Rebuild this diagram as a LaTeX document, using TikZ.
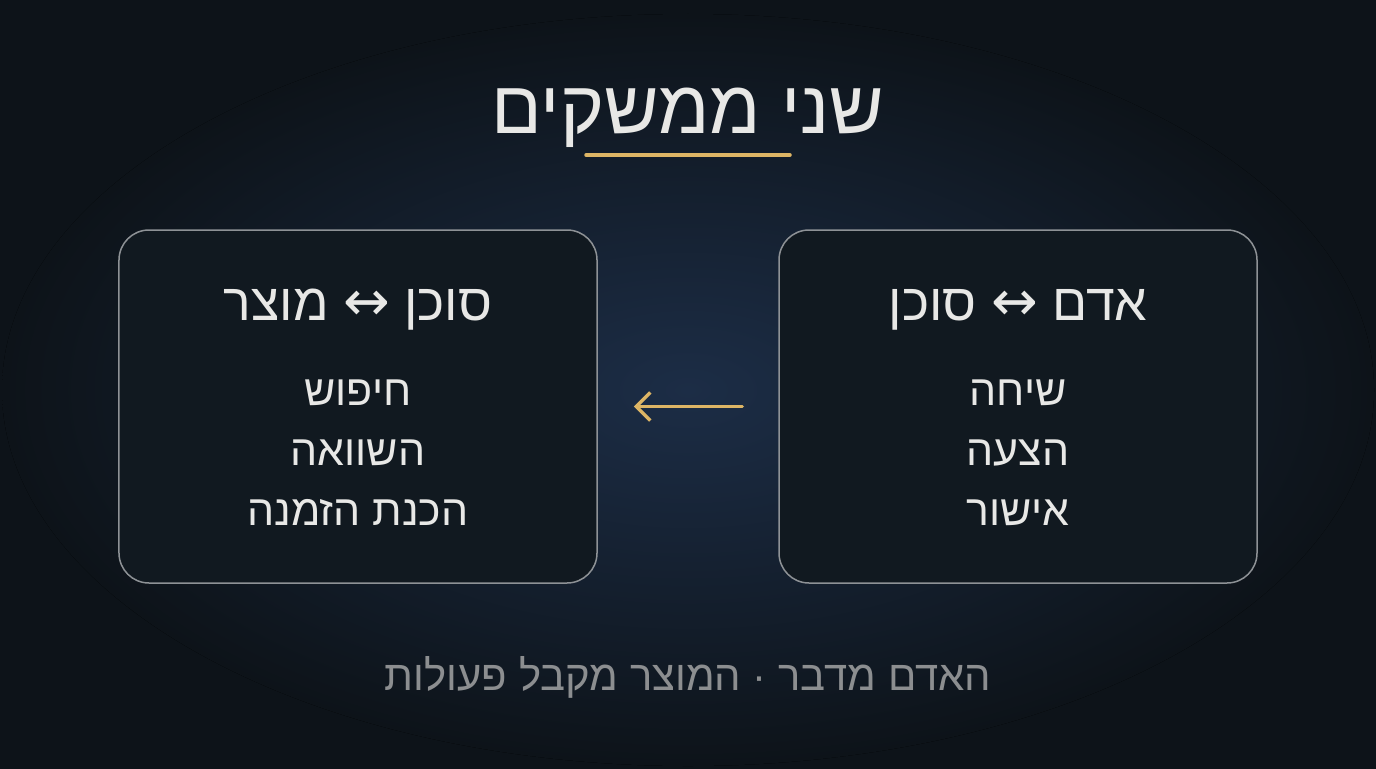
\documentclass[tikz,border=0pt]{standalone}
\usepackage{fontspec}
\usetikzlibrary{arrows.meta}
\TeXXeTstate=1
\newfontfamily\heb[Script=Hebrew]{Liberation Sans}
\newfontfamily\symf{DejaVu Sans}
\definecolor{bgout}{HTML}{0D1319}
\definecolor{bgin}{HTML}{1C2D46}
\definecolor{boxfill}{HTML}{111920}
\definecolor{boxline}{HTML}{8E9296}
\definecolor{txt}{HTML}{E8E8E6}
\definecolor{subtxt}{HTML}{8C8E90}
\definecolor{gold}{HTML}{DDB565}
\tikzset{
  panel/.style={draw=boxline, line width=1.5bp, fill=boxfill, rounded corners=30bp,
    minimum width=478bp, minimum height=353bp, inner sep=0pt},
  titletext/.style={text=txt, anchor=base, inner sep=0pt, font=\heb\fontsize{75}{82}\selectfont},
  headtext/.style={text=txt, anchor=base, inner sep=0pt, font=\heb\fontsize{52}{60}\selectfont},
  itemtext/.style={text=txt, anchor=base, inner sep=0pt, font=\heb\fontsize{43}{50}\selectfont},
  foottext/.style={text=subtxt, anchor=base, inner sep=0pt, font=\heb\fontsize{42}{50}\selectfont},
  goldline/.style={draw=gold, line width=3.5bp, line cap=round},
}
\newcommand{\lrarrow}{{\symf\fontsize{56}{60}\selectfont ↔}}
\begin{document}
\begin{tikzpicture}[x=1bp, y=-1bp]
\useasboundingbox (0,0) rectangle (1376,768);
\fill[bgout] (-4,-4) rectangle (1380,772);
\fill[inner color=bgin, outer color=bgout] (688,390) ellipse (686 and 376);
% title
\node[titletext] (title) at (688,133) {\beginR שני ממשקים\endR};
\coordinate (ulL) at (586,155);
\coordinate (ulR) at (790,155);
\draw[goldline] (ulL) -- (ulR);
% boxes
\node[panel] (lbox) at (358,406.5) {};
\node[panel] (rbox) at (1018,406.5) {};
% left box text
\node[headtext] (lhead) at (358,320) {\beginR סוכן \lrarrow\ מוצר\endR};
\node[itemtext] (l1) at (358,405) {\beginR חיפוש\endR};
\node[itemtext] (l2) at (358,465) {\beginR השוואה\endR};
\node[itemtext] (l3) at (358,525) {\beginR הכנת הזמנה\endR};
% right box text
\node[headtext] (rhead) at (1018,320) {\beginR אדם \lrarrow\ סוכן\endR};
\node[itemtext] (r1) at (1018,405) {\beginR שיחה\endR};
\node[itemtext] (r2) at (1018,465) {\beginR הצעה\endR};
\node[itemtext] (r3) at (1018,525) {\beginR אישור\endR};
% arrow
\draw[goldline, -{Straight Barb[length=14bp, width=28bp, line width=3.5bp]}, shorten <=36bp, shorten >=36bp] (rbox.west) -- (lbox.east);
% footer
\node[foottext] (foot) at (688,690) {\beginR האדם מדבר · המוצר מקבל פעולות\endR};
\end{tikzpicture}
\end{document}
